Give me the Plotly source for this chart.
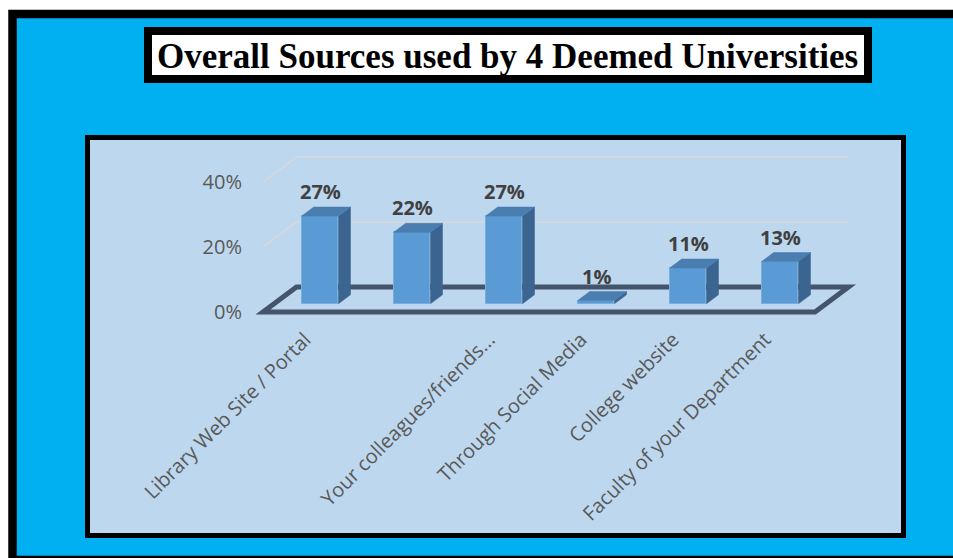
import plotly.graph_objects as go

# ---------------- data ----------------
CATEGORIES = ["Library Web Site / Portal", "Your colleagues", "Your colleagues/friends...",
              "Through Social Media", "College website", "Faculty of your Department"]
TICK_LABELS = ["Library Web Site / Portal", "", "Your colleagues/friends...",
               "Through Social Media", "College website", "Faculty of your Department"]
VALUES = [27, 22, 27, 1, 11, 13]
Y_TICKS = [0, 20, 40]
Y_TICK_LABELS = ["0%", "20%", "40%"]
TITLE = "Overall Sources used by 4 Deemed Universities"

# ---------------- geometry / style ----------------
W, H = 953, 558
X0_PX, SX = 263.0, 92.0          # pixel of x=0, px per category
Y0_PX, SY = 312.0, 3.25          # pixel of y=0, px per percent
DX = 33.5 / SX                   # depth shift (data units) for full depth
DY = 25.0 / SY
D_F, D_B = 0.33, 0.69            # bar front/back depth fractions
BAR_W = 0.40
LABEL_SHIFT = 15.0 / SX          # category label offset to the left

FRONT = "#5B9BD5"
TOP = "#4A7DB0"
SIDE = "#3B6590"
FLOOR = "#44546A"
GRID = "#D9D9D9"

def px2x(px):
    return (px - X0_PX) / SX

def px2y(py):
    return (Y0_PX - py) / SY

def paper_y(py):
    return 1 - py / H

fig = go.Figure()

n = len(VALUES)
shapes = []

# background boxes (paper coords)
shapes.append(dict(type="rect", xref="paper", yref="paper", layer="below",
                   x0=12.5 / W, x1=1.02, y0=paper_y(14), y1=paper_y(560),
                   fillcolor="#00B0F0", line=dict(color="black", width=8.5)))
shapes.append(dict(type="rect", xref="paper", yref="paper", layer="below",
                   x0=87.5 / W, x1=903.5 / W, y0=paper_y(137.5), y1=paper_y(535.5),
                   fillcolor="#BDD7EE", line=dict(color="black", width=5)))
shapes.append(dict(type="rect", xref="paper", yref="paper", layer="below",
                   x0=148 / W, x1=868 / W, y0=paper_y(31), y1=paper_y(79),
                   fillcolor="white", line=dict(color="black", width=8)))

# gridlines on side + back wall
for v in Y_TICKS[1:]:
    path = f"M 0,{v} L {DX},{v + DY} L {n + DX},{v + DY}"
    shapes.append(dict(type="path", xref="x", yref="y", layer="below", path=path,
                       line=dict(color=GRID, width=1.5)))

# floor outline
floor = f"M 0,0 L {n},0 L {n + DX},{DY} L {DX},{DY} Z"
shapes.append(dict(type="path", xref="x", yref="y", layer="below", path=floor,
                   line=dict(color=FLOOR, width=5)))

# bars
xc = [i + 0.5 + DX * D_F for i in range(n)]
base = DY * D_F
dd = D_B - D_F
fig.add_trace(go.Bar(x=xc, y=VALUES, base=[base] * n, width=BAR_W,
                     marker=dict(color=FRONT, line=dict(color="#7AAEDD", width=1)),
                     hoverinfo="skip", showlegend=False))
for i, v in enumerate(VALUES):
    xl, xr = xc[i] - BAR_W / 2, xc[i] + BAR_W / 2
    top = base + v
    # side face
    fig.add_trace(go.Scatter(
        x=[xr, xr + DX * dd, xr + DX * dd, xr, xr],
        y=[base, base + DY * dd, top + DY * dd, top, base],
        fill="toself", fillcolor=SIDE, mode="lines", line=dict(color=SIDE, width=0.5),
        hoverinfo="skip", showlegend=False))
    # top face
    fig.add_trace(go.Scatter(
        x=[xl, xr, xr + DX * dd, xl + DX * dd, xl],
        y=[top, top, top + DY * dd, top + DY * dd, top],
        fill="toself", fillcolor=TOP, mode="lines", line=dict(color=TOP, width=0.5),
        hoverinfo="skip", showlegend=False))

annotations = []
for i, v in enumerate(VALUES):
    annotations.append(dict(x=xc[i], y=v + DY * D_B, xref="x", yref="y",
                            text=f"{v}%", showarrow=False, yanchor="bottom", yshift=0,
                            font=dict(family="Open Sans", size=20, color="#404040", weight="bold")))

annotations.append(dict(x=508 / W, y=paper_y(56), xref="paper", yref="paper",
                        text=TITLE, showarrow=False, xanchor="center", yanchor="middle",
                        font=dict(family="Liberation Serif", size=35, color="black", weight="bold")))

fig.update_layout(
    width=W, height=H, autosize=False,
    margin=dict(l=0, r=0, t=0, b=0),
    paper_bgcolor="white", plot_bgcolor="rgba(0,0,0,0)",
    shapes=shapes, annotations=annotations,
    showlegend=False, bargap=0,
    xaxis=dict(range=[px2x(0), px2x(W)], domain=[0, 1], anchor="free",
               position=paper_y(323),
               tickmode="array", tickvals=[x - LABEL_SHIFT for x in xc],
               ticktext=TICK_LABELS, tickangle=-45,
               showgrid=False, zeroline=False, showline=False, ticks="",
               tickfont=dict(family="Open Sans", size=20, color="#595959")),
    yaxis=dict(range=[px2y(H), px2y(0)], domain=[0, 1], anchor="free",
               position=X0_PX / W,
               tickmode="array", tickvals=Y_TICKS, ticktext=Y_TICK_LABELS,
               showgrid=False, zeroline=False, showline=False,
               ticks="outside", ticklen=17, tickcolor="rgba(0,0,0,0)",
               tickfont=dict(family="Open Sans", size=20, color="#595959")),
)

fig.write_html("out.html")
